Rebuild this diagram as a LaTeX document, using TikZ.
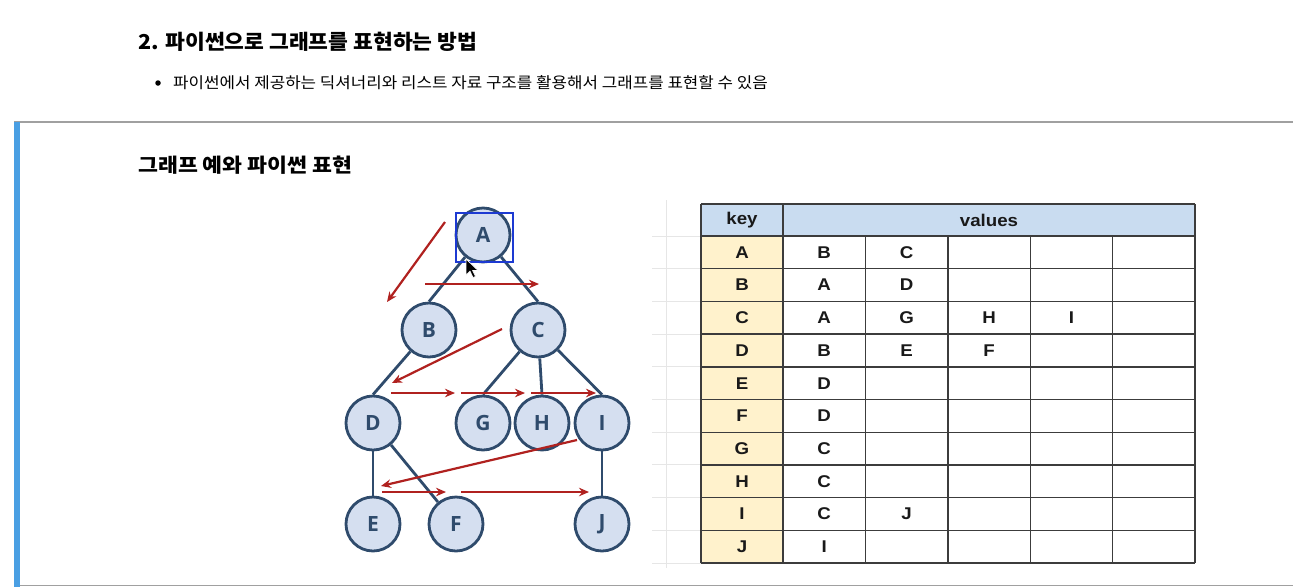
\documentclass[tikz,border=0pt]{standalone}
\usepackage{fontspec}
\setmainfont{Liberation Sans}
\newfontfamily\kr{Noto Sans CJK KR}
\newfontfamily\nodefont{Open Sans}
\usetikzlibrary{arrows.meta}
\pgfdeclarelayer{background}
\pgfsetlayers{background,main}
\definecolor{edgeblue}{HTML}{2F4B6C}
\definecolor{nodefill}{HTML}{D5DFF0}
\definecolor{redarrow}{HTML}{B0211F}
\definecolor{barblue}{HTML}{4A9FE3}
\definecolor{hdrblue}{HTML}{C9DCF0}
\definecolor{keyyellow}{HTML}{FFF2CC}
\definecolor{gridgray}{HTML}{3C3C3C}
\definecolor{sepgray}{HTML}{A0A0A0}
\definecolor{faintgray}{HTML}{E6E6E6}
\definecolor{selblue}{HTML}{1D3AD2}
\newcommand{\cellstretch}[1]{\scalebox{1.1}[1]{#1}}
\tikzset{
  gnode/.style={circle, draw=edgeblue, line width=2.8pt, fill=nodefill, minimum size=54pt, inner sep=0pt,
    font=\nodefont\bfseries\fontsize{21}{21}\selectfont, text=edgeblue},
  gedge/.style={draw=edgeblue, line width=2.8pt},
  redarr/.style={draw=redarrow, line width=2.2pt, -{Stealth[length=10pt,width=8.5pt]}},
  cell/.style={inner sep=0pt, font=\bfseries\fontsize{17}{17}\selectfont, text=black!90},
  tline/.style={draw=gridgray, line width=1.4pt},
  faint/.style={draw=faintgray, line width=1pt}
}
\begin{document}
\begin{tikzpicture}[x=1pt,y=-1pt]
\useasboundingbox (0,0) rectangle (1293,587);
\begin{pgfonlayer}{background}
\fill[white] (0,0) rectangle (1293,587);
\end{pgfonlayer}

% page decorations
\draw[sepgray, line width=1.2pt] (14,122) -- (1293,122);
\draw[sepgray, line width=1.5pt] (14,585.5) -- (1293,585.5);
\fill[barblue] (14,122) rectangle (20,587);

% headings
\node[anchor=west, inner sep=0pt, font=\kr\bfseries\fontsize{20.5}{24}\selectfont] (title) at (138,42) {\scalebox{1.05}[1]{2. 파이썬으로 그래프를 표현하는 방법}};
\node[circle, fill=black, minimum size=5.5pt, inner sep=0pt] (bul) at (158,83) {};
\node[anchor=west, inner sep=0pt, font=\kr\fontsize{15.5}{18}\selectfont] (btext) at (173,83) {\scalebox{1.085}[1]{파이썬에서 제공하는 딕셔너리와 리스트 자료 구조를 활용해서 그래프를 표현할 수 있음}};
\node[anchor=west, inner sep=0pt, font=\kr\bfseries\fontsize{19.5}{22}\selectfont] (sub) at (138,165) {\scalebox{1.11}[1]{그래프 예와 파이썬 표현}};

% graph nodes
\node[gnode] (A) at (483,235) {A};
\node[gnode] (B) at (429,330) {B};
\node[gnode] (C) at (538,330) {C};
\node[gnode] (D) at (373,423) {D};
\node[gnode] (G) at (483,423) {G};
\node[gnode] (I) at (602,423) {I};
\node[gnode] (H) at (542,423) {H};
\node[gnode] (E) at (373,524) {E};
\node[gnode] (F) at (456,524) {F};
\node[gnode] (J) at (602,524) {J};

\begin{pgfonlayer}{background}
\draw[gedge] (A) -- (B.north);
\draw[gedge] (A) -- (C.north);
\draw[gedge] (B) -- (D.north);
\draw[gedge] (C) -- (G.north);
\draw[gedge] (C) -- (H.north);
\draw[gedge] (C) -- (I.north);
\draw[gedge] (D) -- (E);
\draw[gedge] (D) -- (F);
\draw[gedge] (I) -- (J);
\end{pgfonlayer}

% selection box and cursor
\node[draw=selblue, line width=2pt, minimum width=57pt, minimum height=49pt, inner sep=0pt] (selbox) at (484.5,237.5) {};
\draw[fill=black, draw=white, line width=0.6pt, line join=round]
  (466,259) -- (466,275) -- (470,271) -- (473,277.5) -- (475.5,276.5) -- (472.5,270.5) -- (478,270.5) -- cycle;

% red traversal arrows
\coordinate (r1s) at (445,222); \coordinate (r1e) at (387,302);
\coordinate (r2s) at (425,284); \coordinate (r2e) at (539,284);
\coordinate (r3s) at (502,329); \coordinate (r3e) at (392,383);
\coordinate (r4s) at (391,393); \coordinate (r4e) at (455,393);
\coordinate (r5s) at (461,393); \coordinate (r5e) at (525,393);
\coordinate (r6s) at (531,393); \coordinate (r6e) at (596,393);
\coordinate (r7s) at (577,440); \coordinate (r7e) at (381,486);
\coordinate (r8s) at (382,492); \coordinate (r8e) at (446,492);
\coordinate (r9s) at (461,492); \coordinate (r9e) at (589,492);
\foreach \n in {1,...,9} { \draw[redarr] (r\n s) -- (r\n e); }

% table
\fill[hdrblue] (701,204) rectangle (1195,236);
\fill[keyyellow] (701,236) rectangle (783,563);
\foreach \r in {0,...,10} {
  \draw[faint] (652,{236+32.7*\r}) -- (701,{236+32.7*\r});
}
\draw[faint] (666,200) -- (666,568);
\draw[tline] (701,204) -- (1195,204);
\foreach \r in {0,...,10} {
  \draw[tline] (701,{236+32.7*\r}) -- (1195,{236+32.7*\r});
}
\draw[tline] (701,204) -- (701,563);
\draw[tline] (783,204) -- (783,563);
\draw[tline] (1195,204) -- (1195,563);
\foreach \c in {1,...,4} {
  \draw[tline] ({783+82.4*\c},236) -- ({783+82.4*\c},563);
}
\node[cell] (hkey) at (742,220) {\cellstretch{key}};
\node[cell] (hval) at (989,220) {\cellstretch{values}};
\foreach \k [count=\r] in {A,B,C,D,E,F,G,H,I,J} {
  \node[cell] (k\r) at (742,{236+32.7*(\r-0.5)}) {\cellstretch{\k}};
}
\foreach \vals [count=\r] in {{B,C},{A,D},{A,G,H,I},{B,E,F},{D},{D},{C},{C},{C,J},{I}} {
  \foreach \v [count=\c] in \vals {
    \node[cell] (v\r-\c) at ({783+82.4*(\c-0.5)},{236+32.7*(\r-0.5)}) {\cellstretch{\v}};
  }
}
\end{tikzpicture}
\end{document}
